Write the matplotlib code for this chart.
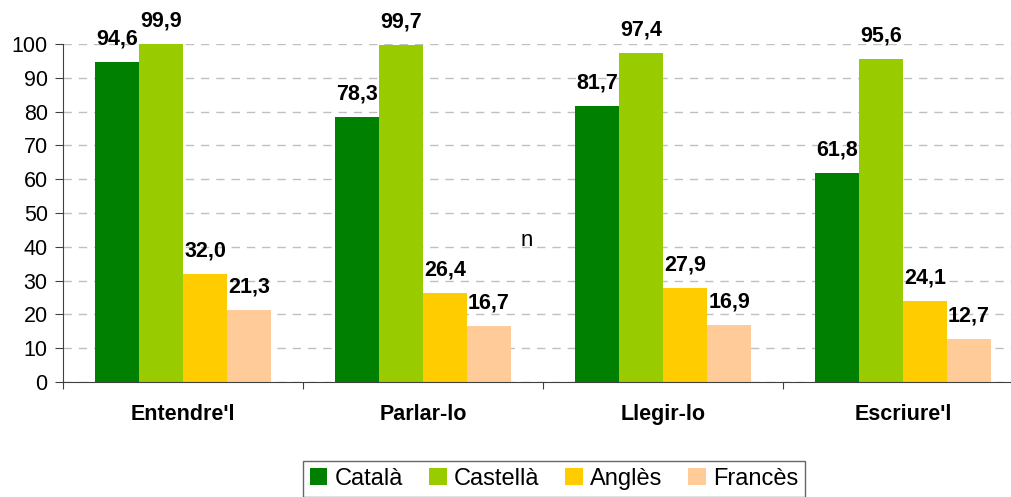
import matplotlib
matplotlib.use("Agg")
import matplotlib.pyplot as plt
import numpy as np

plt.rcParams["font.family"] = ["Liberation Sans", "DejaVu Sans"]

categories = ["Entendre'l", "Parlar-lo", "Llegir-lo", "Escriure'l"]
series_names = ["Català", "Castellà", "Anglès", "Francès"]
catala = [94.6, 78.3, 81.7, 61.8]
castella = [99.9, 99.7, 97.4, 95.6]
angles = [32.0, 26.4, 27.9, 24.1]
frances = [21.3, 16.7, 16.9, 12.7]
colors = ["#008000", "#99cc00", "#ffcc00", "#ffcc99"]

W, H = 1011, 497
fig = plt.figure(figsize=(W / 100, H / 100), dpi=100)
ax = fig.add_axes([63 / W, 1 - 382 / H, 960 / W, 338 / H])

x = np.arange(len(categories))
bar_w = 44 / 240
all_series = [catala, castella, angles, frances]
for i, (vals, name, col) in enumerate(zip(all_series, series_names, colors)):
    pos = x + (i - 1.5) * bar_w
    ax.bar(pos, vals, width=bar_w, color=col, label=name, zorder=2)
    for px, v in zip(pos, vals):
        ax.annotate(f"{v:.1f}".replace(".", ","), (px, v), xytext=(0, 9),
                    textcoords="offset points", ha="center", va="bottom",
                    fontsize=15.5, fontweight="bold")

ax.set_xlim(-0.5, 3.5)
ax.set_ylim(0, 100)
ax.set_yticks(np.arange(0, 101, 10))
ax.yaxis.grid(True, linestyle=(0, (6, 5)), color="#c0c0c0", linewidth=1, zorder=0)
ax.set_xticks(np.arange(-0.5, 4, 1))
ax.set_xticklabels([])
ax.set_xticks(x, minor=True)
ax.set_xticklabels(categories, minor=True, fontsize=15.5, fontweight="bold")
ax.tick_params(axis="x", which="minor", length=0, pad=16)
ax.tick_params(axis="x", which="major", length=5, color="#404040")
ax.tick_params(axis="y", length=6, color="#404040", labelsize=15.5, pad=5)
for s in ["top", "right"]:
    ax.spines[s].set_visible(False)
for s in ["left", "bottom"]:
    ax.spines[s].set_color("#404040")

fig.text(527 / W, 1 - 240 / H, "n", fontsize=16, ha="center", va="center")

leg = fig.legend(loc="upper center", bbox_to_anchor=(554 / W, 1 - 461 / H), ncol=4,
                 fontsize=17, frameon=True, fancybox=False, edgecolor="#404040",
                 handlelength=0.75, handleheight=0.75, handletextpad=0.3,
                 columnspacing=1.1, borderpad=0.3, borderaxespad=0)
leg.get_frame().set_linewidth(1)

fig.savefig("out.png", dpi=100)
